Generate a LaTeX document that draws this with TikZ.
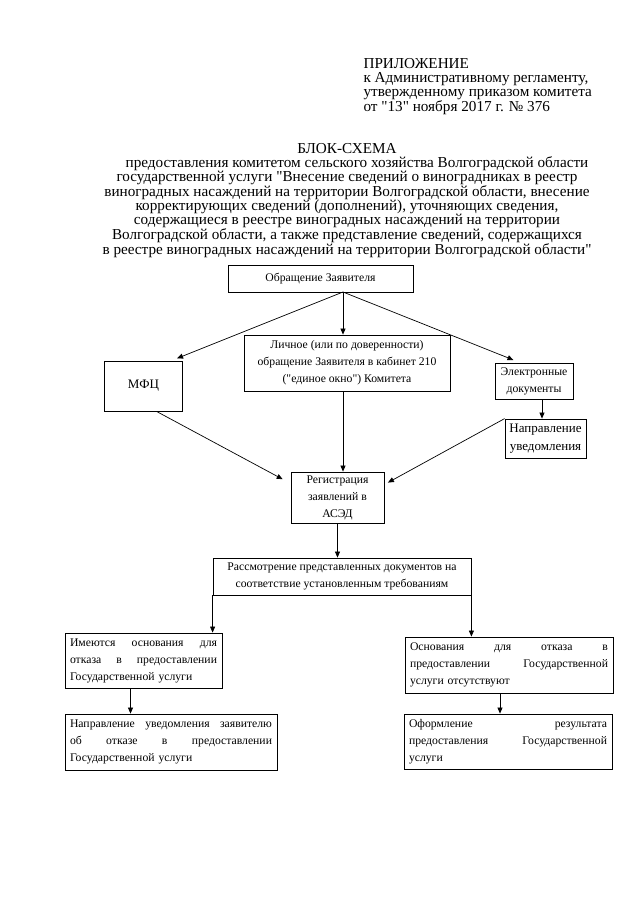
\documentclass[tikz,border=0pt]{standalone}
\usepackage{fontspec}
\setmainfont{Liberation Serif}
\usetikzlibrary{arrows.meta,positioning,calc}

\begin{document}
\begin{tikzpicture}[
  x=1pt,y=-1pt,
  font=\fontsize{11.7}{17}\selectfont,
  box/.style={draw,line width=0.8pt,align=center,inner sep=2pt},
  jbox/.style={box,align=left,inner xsep=5pt,text width=#1},
  arr/.style={-{Triangle[length=6pt,width=5pt]},line width=0.7pt},
  note/.style={align=#1,font=\fontsize{15.2}{13.9}\selectfont},
]
\useasboundingbox (0,0) rectangle (640,905);

\node[note=left,anchor=north west] (appendix) at (360,55) {ПРИЛОЖЕНИЕ\\к Административному регламенту,\\утвержденному приказом комитета\\от \textquotedbl13\textquotedbl{} ноября 2017 г. № 376};
\node[note=center,anchor=north] (title) at (347,140) {БЛОК-СХЕМА\\
\hspace*{20pt}предоставления комитетом сельского хозяйства Волгоградской области\\
государственной услуги \textquotedbl Внесение сведений о виноградниках в реестр\\
виноградных насаждений на территории Волгоградской области, внесение\\
корректирующих сведений (дополнений), уточняющих сведения,\\
содержащиеся в реестре виноградных насаждений на территории\\
Волгоградской области, а также представление сведений, содержащихся\\
в реестре виноградных насаждений на территории Волгоградской области\textquotedbl};

% top row
\node[box,minimum width=185,minimum height=27] (appeal) at (320.5,278.5) {Обращение Заявителя};
\coordinate (fan) at (343,292);
\node[box,minimum width=78,minimum height=50,font=\fontsize{13}{17}\selectfont] (mfc) at (143.5,386) {МФЦ};
\node[box,minimum width=206,minimum height=56] (personal) at (347,363) {Личное (или по доверенности)\\обращение Заявителя в кабинет 210\\(\textquotedbl единое окно\textquotedbl) Комитета};
\node[box,minimum width=78,minimum height=36] (edocs) at (534,381) {Электронные\\документы};
\node[box,minimum width=81,minimum height=39,font=\fontsize{13}{18}\selectfont] (notice) at (545.5,438.5) {Направление\\уведомления};

\draw[arr] (fan) -- (fan |- personal.north);
\draw[arr,shorten >=6pt] (fan) -- ([xshift=28pt]mfc.north);
\draw[arr,shorten >=7pt] (fan) -- ([xshift=-14pt]edocs.north);
\draw[arr] ([xshift=8pt]edocs.south) -- ([xshift=8pt]edocs.south |- notice.north);

% registration
\node[box,minimum width=93,minimum height=51] (reg) at (337.5,497.5) {Регистрация\\заявлений в\\АСЭД};
\draw[arr] (personal.south -| fan) -- (reg.north -| fan);
\draw[arr,shorten >=9pt] ([xshift=13pt]mfc.south) -- ([yshift=14pt]reg.west);
\draw[arr,shorten >=4pt] (notice.north west) -- ([yshift=13pt]reg.east);

\node[box,minimum width=258,minimum height=37] (check) at (342,576.5) {Рассмотрение представленных документов на\\соответствие установленным требованиям};
\draw[arr] (reg.south) -- (reg.south |- check.north);

% decision branches
\node[jbox=147,minimum height=55] (refuse) at (143.5,660.5) {Имеются\hfill основания\hfill для\\отказа\hfill в\hfill предоставлении\\Государственной услуги};
\node[jbox=198,minimum height=56] (noground) at (509,665) {Основания\hfill для\hfill отказа\hfill в\\предоставлении\hfill Государственной\\услуги отсутствуют};
\draw[arr] (check.south west) -- (check.south west |- refuse.north);
\draw[arr] (check.south east) -- (check.south east |- noground.north);

\node[jbox=202,minimum height=56] (refnote) at (171,742) {Направление\hfill уведомления\hfill заявителю\\об\hfill отказе\hfill в\hfill предоставлении\\Государственной услуги};
\node[jbox=198,minimum height=55] (result) at (508,741.5) {Оформление\hfill результата\\предоставления\hfill Государственной\\услуги};
\draw[arr] ([xshift=-13pt]refuse.south) -- ([xshift=-13pt]refuse.south |- refnote.north);
\draw[arr] ([xshift=-9pt]noground.south) -- ([xshift=-9pt]noground.south |- result.north);
\end{tikzpicture}
\end{document}
